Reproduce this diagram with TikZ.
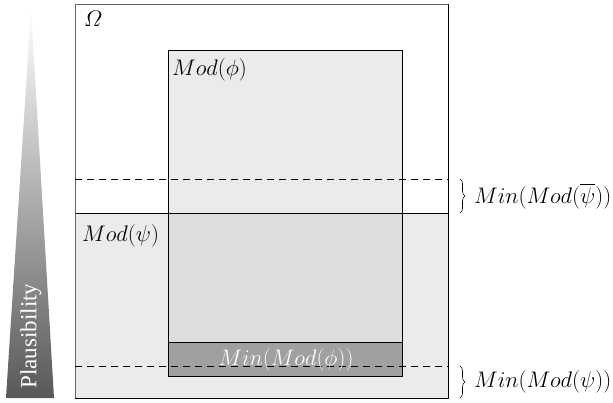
\RequirePackage{fix-cm}
\documentclass[tikz,border=0pt]{standalone}
\usepackage{amsmath}
\usepackage{fontspec}
\usepackage{tikz}
\usepackage{xcolor}
\usetikzlibrary{decorations.pathreplacing}
\newfontfamily\plausfont{Liberation Serif}
\definecolor{modlight}{RGB}{235, 235, 235}
\definecolor{modboth}{RGB}{221, 221, 221}
\definecolor{mindark}{RGB}{160, 160, 160}
\definecolor{plausdark}{RGB}{88, 88, 88}

\begin{document}
\begin{tikzpicture}[x=1pt, y=-1pt, font=\fontsize{22.5}{27}\selectfont,
    minbrace/.style={decorate, decoration={brace, amplitude=5pt}, semithick},
    minlevel/.style={dash pattern=on 7pt off 5pt}]
            \useasboundingbox (0,0) rectangle (613,403);

            % Plausibility scale
            \shade[top color=white, bottom color=plausdark] (6,398) -- (31,9) -- (54,398) -- cycle;
            \node[rotate=90, anchor=west, text=white, font=\plausfont\fontsize{23}{27}\selectfont] (plaus) at (31,392) {Plausibility};

            % Mod(psi) and Mod(phi)
            \fill[modlight] (75,213) rectangle (448,398);
            \fill[modlight] (168,50) rectangle (402,376);
            \fill[modboth] (168,213) rectangle (402,376);
            \draw[fill=mindark] (168,342) rectangle (402,376);
            \draw (168,50) rectangle (402,376);
            \draw (75,213) -- (448,213);

            % Omega box
            \draw[black!60, line width=0.8pt] (75,398) -- (75,4) -- (448,4);
            \draw[line width=0.8pt] (448,4) -- (448,398) -- (75,398);

            % Min levels
            \draw[minlevel] (75,179) -- (448,179);
            \draw[minlevel] (75,366) -- (448,366);

            \node[anchor=base west, inner sep=0pt] (omega) at (84,27) {$\varOmega$};
            \node[anchor=base west, inner sep=0pt] (modphi) at (172,76) {$Mod(\phi)$};
            \node[anchor=base west, inner sep=0pt] (modpsi) at (82,242) {$Mod(\psi)$};
            \node[anchor=base, inner sep=0pt, text=white] (minphi) at (286,365) {$Min(Mod(\phi))$};

            % Braces
            \draw[minbrace] (460,179) -- (460,213);
            \node[anchor=west, inner sep=0pt] (minnotpsi) at (474,196) {$Min(Mod(\overline{\psi}))$};
            \draw[minbrace] (460,366) -- (460,398);
            \node[anchor=west, inner sep=0pt] (minpsi) at (474,382) {$Min(Mod(\psi))$};
        \end{tikzpicture}
\end{document}
